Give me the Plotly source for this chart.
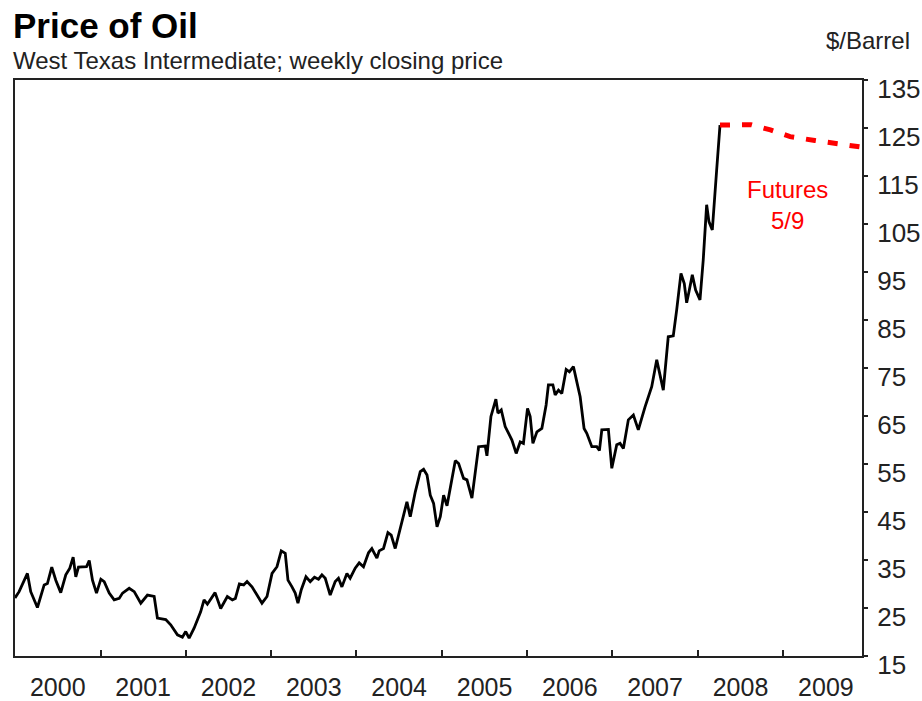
import plotly.graph_objects as go
import pandas as pd

# Weekly WTI closing price (traced vertices): decimal year, $/barrel
spot_year = [
    2000.000, 2000.048, 2000.145, 2000.184, 2000.262, 2000.341, 2000.379, 2000.430, 2000.477, 2000.535,
    2000.594, 2000.641, 2000.680, 2000.711, 2000.742, 2000.789, 2000.836, 2000.868, 2000.906, 2000.953,
    2001.004, 2001.043, 2001.102, 2001.160, 2001.219, 2001.258, 2001.336, 2001.395, 2001.472, 2001.550,
    2001.629, 2001.667, 2001.765, 2001.823, 2001.902, 2001.960, 2001.999, 2002.039, 2002.097, 2002.174,
    2002.214, 2002.253, 2002.343, 2002.409, 2002.487, 2002.546, 2002.581, 2002.628, 2002.678, 2002.718,
    2002.776, 2002.835, 2002.893, 2002.952, 2003.011, 2003.069, 2003.119, 2003.166, 2003.198, 2003.245,
    2003.283, 2003.315, 2003.354, 2003.409, 2003.459, 2003.509, 2003.556, 2003.596, 2003.635, 2003.693,
    2003.752, 2003.790, 2003.830, 2003.889, 2003.927, 2003.986, 2004.033, 2004.083, 2004.142, 2004.181,
    2004.240, 2004.267, 2004.317, 2004.369, 2004.407, 2004.454, 2004.493, 2004.540, 2004.591, 2004.630,
    2004.689, 2004.747, 2004.786, 2004.826, 2004.864, 2004.903, 2004.943, 2004.981, 2005.020, 2005.060,
    2005.098, 2005.157, 2005.196, 2005.254, 2005.294, 2005.352, 2005.430, 2005.508, 2005.528, 2005.575,
    2005.633, 2005.657, 2005.696, 2005.742, 2005.821, 2005.871, 2005.918, 2005.956, 2006.004, 2006.035,
    2006.067, 2006.114, 2006.172, 2006.222, 2006.249, 2006.301, 2006.328, 2006.367, 2006.406, 2006.457,
    2006.495, 2006.542, 2006.582, 2006.621, 2006.667, 2006.699, 2006.758, 2006.816, 2006.847, 2006.875,
    2006.952, 2006.992, 2007.050, 2007.089, 2007.128, 2007.186, 2007.245, 2007.303, 2007.382, 2007.460,
    2007.519, 2007.557, 2007.596, 2007.654, 2007.713, 2007.753, 2007.803, 2007.842, 2007.870, 2007.897,
    2007.936, 2007.975, 2008.026, 2008.064, 2008.104, 2008.131, 2008.170, 2008.221, 2008.260,
]
spot_price = [
    27.1, 28.4, 32.2, 28.4, 25.1, 29.8, 30.1, 33.5, 30.8, 28.2,
    31.9, 33.3, 35.6, 31.5, 33.5, 33.5, 33.6, 34.9, 30.8, 28.1,
    31.0, 30.5, 28.1, 26.7, 27.0, 28.1, 29.1, 28.4, 26.0, 27.7,
    27.4, 22.9, 22.6, 21.5, 19.4, 18.9, 20.1, 18.7, 20.8, 24.2,
    26.7, 25.8, 28.2, 24.9, 27.4, 26.7, 27.0, 30.0, 29.8, 30.5,
    29.4, 27.7, 26.0, 27.4, 32.2, 33.6, 36.9, 36.4, 30.8, 29.4,
    28.1, 26.0, 28.8, 31.5, 30.5, 31.4, 31.0, 31.9, 31.2, 27.7,
    30.5, 31.2, 29.4, 32.2, 31.2, 33.3, 34.4, 33.6, 36.5, 37.4,
    35.4, 36.9, 37.4, 40.7, 40.2, 37.4, 40.2, 43.0, 47.1, 44.0,
    49.2, 53.4, 53.9, 52.7, 48.5, 46.8, 41.9, 44.0, 48.5, 46.3,
    50.3, 55.7, 55.1, 52.0, 51.7, 47.9, 58.6, 58.75, 56.7, 64.9,
    68.5, 65.6, 66.25, 62.8, 60.0, 57.2, 59.6, 59.3, 66.6, 64.9,
    59.3, 61.7, 62.4, 67.3, 71.5, 71.5, 69.4, 70.4, 69.7, 74.7,
    74.2, 75.3, 72.1, 69.0, 62.4, 61.4, 58.6, 58.6, 57.8, 62.1,
    62.2, 54.1, 59.0, 59.3, 58.25, 64.2, 65.2, 62.1, 66.9, 71.1,
    76.7, 73.2, 70.4, 81.5, 81.7, 87.1, 94.7, 92.6, 88.6, 90.9,
    94.4, 91.25, 89.2, 97.5, 109.0, 105.5, 103.75, 116.25, 125.6,
]

# Futures curve as of 5/9
fut_year = [2008.260, 2008.62, 2008.85, 2009.08, 2009.37, 2009.64, 2009.923]
fut_price = [125.6, 125.7, 124.6, 123.2, 122.4, 121.6, 121.0]

years = list(range(2000, 2010))
y_ticks = list(range(15, 136, 10))


def to_date(y):
    yi = int(y)
    start = pd.Timestamp(yi, 1, 1)
    end = pd.Timestamp(yi + 1, 1, 1)
    return start + (end - start) * (y - yi)


spot_x = [to_date(v) for v in spot_year]
fut_x = [to_date(v) for v in fut_year]

FONT = "Arial, Liberation Sans, sans-serif"

fig = go.Figure()
fig.add_trace(go.Scatter(x=spot_x, y=spot_price, mode="lines",
                         line=dict(color="black", width=2.8), hoverinfo="skip"))
fig.add_trace(go.Scatter(x=fut_x, y=fut_price, mode="lines",
                         line=dict(color="#ff0000", width=5, dash="10px,12px"),
                         hoverinfo="skip"))

fig.update_layout(
    width=922, height=701,
    margin=dict(l=15, r=60, t=80, b=45),
    paper_bgcolor="white", plot_bgcolor="white",
    showlegend=False,
    font=dict(family=FONT, color="#222", size=25),
    xaxis=dict(
        type="date",
        automargin=False,
        range=[to_date(2000.0), to_date(2009.923)],
        tickmode="array",
        tickvals=[to_date(y + 0.5) for y in years],
        ticktext=[str(y) for y in years],
        ticks="",
        showgrid=False, zeroline=False,
        showline=True, linecolor="#222", linewidth=2, mirror=True,
        tickfont=dict(size=25, color="#222"),
        ticklabelstandoff=8,
        minor=dict(tickmode="array", tickvals=[to_date(y) for y in years[1:]],
                   ticks="inside", ticklen=6, tickwidth=2, tickcolor="#222",
                   showgrid=False),
    ),
    yaxis=dict(
        side="right",
        automargin=False,
        range=[15, 135],
        tickmode="array", tickvals=y_ticks,
        ticks="outside", ticklen=4, tickwidth=2, tickcolor="#222",
        showgrid=False, zeroline=False,
        showline=True, linecolor="#222", linewidth=2, mirror=True,
        tickfont=dict(size=26, color="#222"),
        ticklabelshift=9,
        ticklabelstandoff=4,
    ),
    annotations=[
        dict(text="<b>Price of Oil</b>", xref="paper", yref="paper", x=0, y=1,
             xanchor="left", yanchor="middle", xshift=-4, yshift=55, showarrow=False,
             font=dict(size=35, color="black", family=FONT)),
        dict(text="West Texas Intermediate; weekly closing price", xref="paper", yref="paper",
             x=0, y=1, xanchor="left", yanchor="middle", xshift=-4, yshift=20, showarrow=False,
             font=dict(size=24, color="#222", family=FONT)),
        dict(text="$/Barrel", xref="paper", yref="paper", x=1, y=1,
             xanchor="right", yanchor="middle", xshift=50, yshift=40, showarrow=False,
             font=dict(size=24, color="#222", family=FONT)),
        dict(text="Futures<br>5/9", x=to_date(2009.05), y=109, xref="x", yref="y",
             showarrow=False, align="center",
             font=dict(size=24, color="#ff0000", family=FONT)),
    ],
)

fig.write_html("out.html", config={"displayModeBar": False},
               post_script="document.body.style.margin='0';document.body.style.overflow='hidden';")
